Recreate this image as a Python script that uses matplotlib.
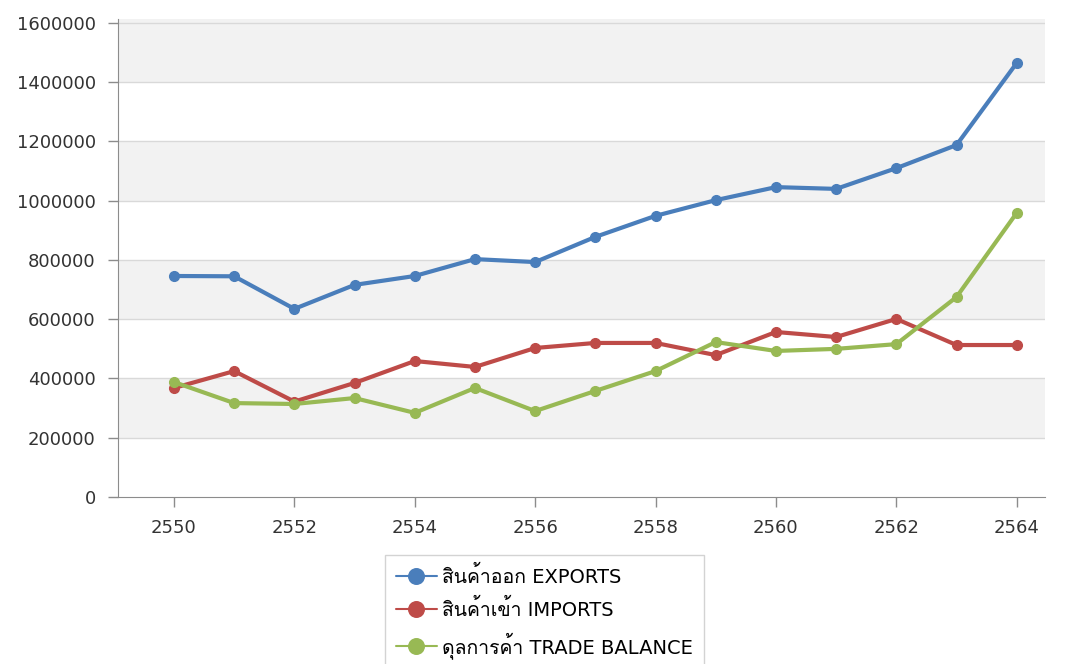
import matplotlib
matplotlib.use("Agg")
import matplotlib.pyplot as plt
from matplotlib import font_manager, ft2font

years = [2550, 2551, 2552, 2553, 2554, 2555, 2556, 2557,
         2558, 2559, 2560, 2561, 2562, 2563, 2564]
exports = [746000, 745000, 635000, 716000, 746000, 803000, 793000, 878000,
           949000, 1002000, 1046000, 1040000, 1110000, 1188000, 1465000]
imports = [368000, 425000, 322000, 385000, 459000, 439000, 503000, 520000,
           520000, 479000, 557000, 540000, 601000, 513000, 513000]
balance = [388000, 317000, 314000, 334000, 284000, 368000, 290000, 358000,
           425000, 523000, 493000, 500000, 516000, 675000, 959000]
labels = ["สินค้าออก EXPORTS", "สินค้าเข้า IMPORTS", "ดุลการค้า TRADE BALANCE"]
colors = ["#4a7ebb", "#be4b48", "#98b954"]

# look for any installed font that has thai glyphs
thai_fonts = []
for f in font_manager.fontManager.ttflist:
    try:
        if 0x0E2A in ft2font.FT2Font(f.fname).get_charmap():
            if f.name not in thai_fonts:
                thai_fonts.append(f.name)
    except Exception:
        pass
plt.rcParams['font.family'] = ['DejaVu Sans'] + thai_fonts

fig = plt.figure(figsize=(10.74, 6.64), dpi=100)
ax = fig.add_axes([118 / 1074, 1 - 497 / 664, (1045 - 118) / 1074, (497 - 19) / 664])

yticks = list(range(0, 1600001, 200000))
for i in range(1, len(yticks) - 1, 2):
    ax.axhspan(yticks[i], yticks[i + 1], color="#f2f2f2", zorder=0, lw=0)
ax.axhspan(yticks[-1], 1613500, color="#f2f2f2", zorder=0, lw=0)
for t in yticks[1:]:
    ax.axhline(t, color="#d9d9d9", lw=1, zorder=1)

for vals, lab, c in zip([exports, imports, balance], labels, colors):
    ax.plot(years, vals, color=c, lw=3, marker="o", markersize=7,
            label=lab, zorder=3, solid_capstyle="round")

ax.set_xlim(2549.07, 2564.47)
ax.set_ylim(0, 1613500)
ax.set_yticks(yticks)
ax.set_yticklabels([str(t) for t in yticks])
ax.set_xticks(years[::2])
ax.tick_params(axis="both", colors="#8c8c8c", labelcolor="#333333",
               labelsize=13, length=7, width=1)
ax.tick_params(axis="y", pad=9)
ax.tick_params(axis="x", pad=9)
for s in ["top", "right"]:
    ax.spines[s].set_visible(False)
for s in ["left", "bottom"]:
    ax.spines[s].set_color("#8c8c8c")

leg = fig.legend(loc="upper left", bbox_to_anchor=(385 / 1074, 1 - 555 / 664),
                 borderaxespad=0, fontsize=14, frameon=True, fancybox=False,
                 edgecolor="#c8c8c8", markerscale=1.6, handlelength=2.1,
                 labelspacing=0.62, borderpad=0.55, handletextpad=0.3)
leg.get_frame().set_linewidth(1)
for line in leg.get_lines():
    line.set_linewidth(1.5)

fig.savefig("out.png", dpi=100)
